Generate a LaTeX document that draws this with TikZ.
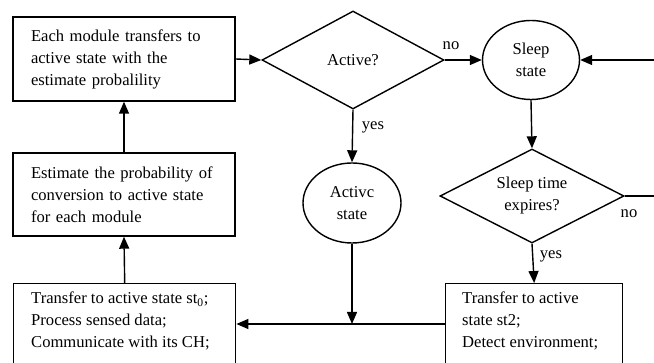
\documentclass[tikz,border=0pt]{standalone}
\usepackage{fontspec}
\setmainfont{Liberation Serif}
\usetikzlibrary{shapes.geometric,arrows.meta}
\begin{document}
\begin{tikzpicture}[x=1pt,y=-1pt,
  every node/.style={font=\fontsize{16.6}{22}\selectfont},
  conn/.style={line width=1.4pt},
  arr/.style={conn,-{Triangle[length=12pt,width=10pt]}},
  procbox/.style={draw,line width=1.4pt,rectangle,align=left,inner xsep=0pt,inner ysep=0pt},
  textblock/.style={anchor=north west,inner sep=0pt,align=left},
  decision/.style={draw,line width=1.4pt,diamond,inner sep=0pt,align=center},
  statebox/.style={draw,line width=1.4pt,ellipse,inner sep=0pt,align=center},
  lab/.style={inner sep=0pt}]
\useasboundingbox (0,0) rectangle (654,363);
\begin{scope}
\clip (0,0) rectangle (654,363);
% boxes
\node[procbox,minimum width=222pt,minimum height=84pt,text width=186pt] (b1) at (124,59)
  {\mbox{Each module transfers to}\\\mbox{active state with the}\\\mbox{estimate probalility}};
\node[procbox,minimum width=222pt,minimum height=83pt,text width=186pt] (b2) at (124,194.5)
  {\mbox{Estimate the probability of}\\\mbox{conversion to active state}\\\mbox{for each module}};
\node[procbox,anchor=north west,minimum width=222pt,minimum height=92pt] (b3) at (13,283) {};
\node[textblock] (t3) at (31,292)
  {Transfer to active state st\textsubscript{0};\\Process sensed data;\\Communicate with its CH;};
\node[procbox,anchor=north west,minimum width=177pt,minimum height=92pt] (b4) at (445,283) {};
\node[textblock] (t4) at (462,292)
  {Transfer to active\\state st2;\\Detect environment;};
% decisions
\node[decision,minimum width=182pt,minimum height=98pt,aspect=1.86] (dA) at (353,60) {Active?};
\node[decision,minimum width=184pt,minimum height=94pt,aspect=1.96] (dS) at (532,196) {Sleep time\\expires?};
% states
\node[statebox,minimum width=97pt,minimum height=79pt] (sleep) at (531,60) {Sleep\\state};
\node[statebox,minimum width=98pt,minimum height=80pt] (act) at (352,203) {Activc\\state};
% coordinates
\coordinate (rin) at (654,60);
\coordinate (rout) at (654,196);
\coordinate (j) at (352,324);
% connectors
\draw[arr] (b1.east) -- (dA.west);
\draw[arr] (dA.east) -- (sleep.west);
\draw[arr] (rin) -- (sleep.east);
\draw[arr] (dA.south) -- (act.north);
\draw[arr] (sleep.south) -- (dS.north);
\draw[conn] (dS.east) -- (rout);
\draw[arr] (dS.south) -- (b4.north);
\draw[arr] (act.south) -- (j);
\draw[arr] (j -| b4.west) -- (j -| b3.east);
\draw[arr] (b3.north) -- (b2.south);
\draw[arr] (b2.north) -- (b1.south);
% labels
\node[lab] (lno1) at (451,46) {no};
\node[lab] (lyes1) at (373,127) {yes};
\node[lab] (lno2) at (629,214) {no};
\node[lab] (lyes2) at (551,256) {yes};
\end{scope}
\end{tikzpicture}
\end{document}
